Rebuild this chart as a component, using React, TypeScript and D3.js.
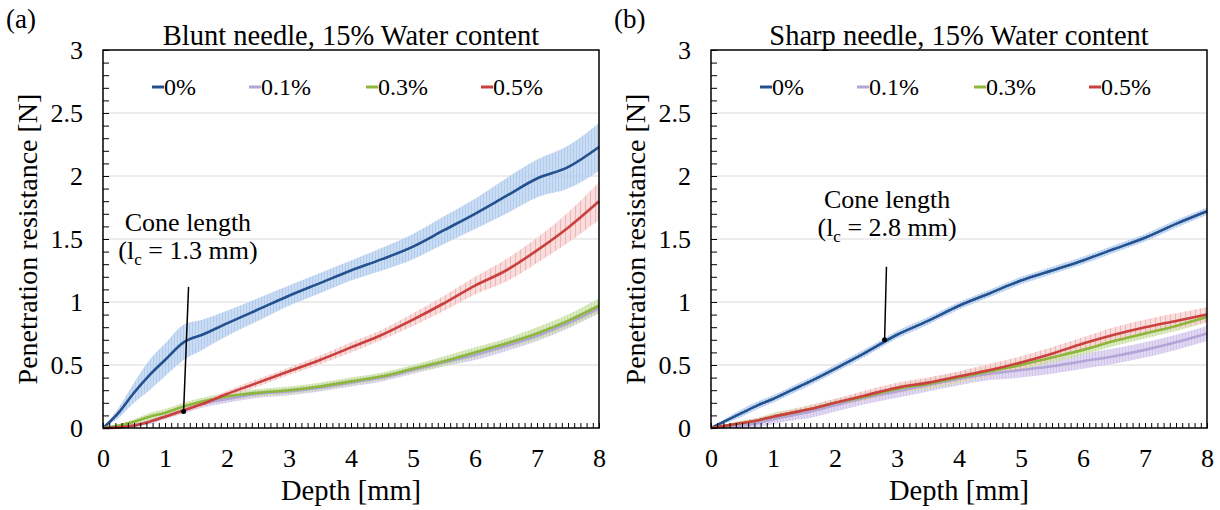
import { useEffect, useRef } from "react";
import * as d3 from "d3";

// depth grid shared by all series [mm]
const depth = [0, 0.25, 0.5, 0.75, 1, 1.3, 1.6, 2, 2.5, 3, 3.5, 4, 4.5, 5, 5.5, 6, 6.5, 7, 7.5, 8];

const labels = ["0%", "0.1%", "0.3%", "0.5%"];
const lineColors = ["#23508e", "#b4a5d8", "#8cb63c", "#c9403f"];
const bandColors = ["#bcd3f0", "#d9cff0", "#d3e6b3", "#f8d3d3"];
const barColors = ["#9fbfe8", "#c6b6e4", "#bcd894", "#eaa4a4"];

// (a) blunt needle
const bluntMean = [
  [0, 0.12, 0.28, 0.42, 0.54, 0.68, 0.74, 0.83, 0.94, 1.05, 1.15, 1.25, 1.34, 1.44, 1.57, 1.7, 1.84, 1.98, 2.07, 2.23],
  [0, 0.005, 0.02, 0.05, 0.09, 0.14, 0.19, 0.23, 0.27, 0.29, 0.32, 0.36, 0.4, 0.46, 0.52, 0.58, 0.65, 0.73, 0.83, 0.95],
  [0, 0.02, 0.05, 0.09, 0.12, 0.17, 0.21, 0.25, 0.28, 0.3, 0.33, 0.37, 0.41, 0.47, 0.53, 0.6, 0.67, 0.75, 0.85, 0.97],
  [0, 0.005, 0.02, 0.05, 0.09, 0.14, 0.19, 0.27, 0.36, 0.45, 0.54, 0.64, 0.74, 0.86, 0.99, 1.13, 1.25, 1.41, 1.59, 1.8],
];
const bluntErr = [
  [0, 0.04, 0.08, 0.12, 0.13, 0.14, 0.12, 0.1, 0.09, 0.08, 0.08, 0.08, 0.09, 0.1, 0.11, 0.12, 0.14, 0.15, 0.17, 0.19],
  [0, 0.005, 0.01, 0.02, 0.02, 0.025, 0.03, 0.03, 0.03, 0.03, 0.03, 0.03, 0.03, 0.03, 0.03, 0.04, 0.04, 0.04, 0.04, 0.04],
  [0, 0.01, 0.02, 0.03, 0.03, 0.03, 0.03, 0.03, 0.03, 0.03, 0.03, 0.03, 0.03, 0.03, 0.04, 0.04, 0.04, 0.05, 0.05, 0.06],
  [0, 0.005, 0.01, 0.01, 0.015, 0.02, 0.02, 0.025, 0.03, 0.03, 0.035, 0.04, 0.04, 0.05, 0.06, 0.07, 0.09, 0.1, 0.12, 0.15],
];

// (b) sharp needle
const sharpMean = [
  [0, 0.06, 0.12, 0.18, 0.23, 0.3, 0.37, 0.47, 0.6, 0.74, 0.85, 0.97, 1.07, 1.17, 1.25, 1.33, 1.42, 1.51, 1.62, 1.72],
  [0, 0.01, 0.02, 0.04, 0.07, 0.1, 0.13, 0.18, 0.24, 0.29, 0.34, 0.39, 0.43, 0.46, 0.49, 0.53, 0.57, 0.62, 0.68, 0.75],
  [0, 0.02, 0.04, 0.06, 0.09, 0.12, 0.15, 0.2, 0.25, 0.31, 0.35, 0.4, 0.45, 0.5, 0.56, 0.62, 0.69, 0.75, 0.81, 0.88],
  [0, 0.02, 0.04, 0.06, 0.09, 0.12, 0.15, 0.2, 0.26, 0.32, 0.36, 0.41, 0.46, 0.52, 0.59, 0.67, 0.74, 0.8, 0.85, 0.9],
];
const sharpErr = [
  [0, 0.02, 0.03, 0.03, 0.03, 0.03, 0.03, 0.03, 0.03, 0.03, 0.03, 0.03, 0.03, 0.03, 0.03, 0.03, 0.03, 0.03, 0.03, 0.03],
  [0, 0.01, 0.02, 0.03, 0.04, 0.04, 0.05, 0.05, 0.05, 0.05, 0.05, 0.05, 0.05, 0.06, 0.06, 0.06, 0.06, 0.06, 0.06, 0.06],
  [0, 0.01, 0.02, 0.02, 0.03, 0.03, 0.03, 0.03, 0.03, 0.03, 0.04, 0.04, 0.04, 0.04, 0.04, 0.04, 0.04, 0.04, 0.04, 0.04],
  [0, 0.01, 0.015, 0.02, 0.02, 0.025, 0.03, 0.03, 0.04, 0.04, 0.04, 0.04, 0.05, 0.05, 0.05, 0.05, 0.06, 0.06, 0.06, 0.06],
];

const panels = [
  { tag: "(a)", title: "Blunt needle, 15% Water content", mean: bluntMean, err: bluntErr, cone: 1.3, coneTop: 1.12, coneAt: 0.13, labelX: 1.37, labelY: 231 },
  { tag: "(b)", title: "Sharp needle, 15% Water content", mean: sharpMean, err: sharpErr, cone: 2.8, coneTop: 1.28, coneAt: 0.7, labelX: 2.84, labelY: 208 },
];

const FONT = "Liberation Serif";

export default function App() {
  const svgRef = useRef<SVGSVGElement>(null);

  useEffect(() => {
    const width = 1220;
    const height = 510;
    const svg = d3.select(svgRef.current)
      .attr("width", width)
      .attr("height", height)
      .attr("font-family", FONT);

    svg.selectAll("*").remove();
    const defs = svg.append("defs");

    panels.forEach((p, pi) => {
      const ox = pi * 608;
      const x = d3.scaleLinear().domain([0, 8]).range([103 + ox, 599 + ox]);
      const y = d3.scaleLinear().domain([0, 3]).range([428, 50]);
      const g = svg.append("g");

      // hatch patterns imitating the dense error bars
      lineColors.forEach((_, si) => {
        const pat = defs.append("pattern")
          .attr("id", `bars-${pi}-${si}`)
          .attr("patternUnits", "userSpaceOnUse")
          .attr("width", si === 3 ? 5 : 3).attr("height", 10);
        pat.append("rect").attr("width", 6).attr("height", 10).attr("fill", bandColors[si]);
        pat.append("line").attr("x1", 0.5).attr("x2", 0.5).attr("y1", 0).attr("y2", 10)
          .attr("stroke", barColors[si]).attr("stroke-width", 1);
      });

      // gridlines
      g.selectAll(".grid")
        .data(d3.range(0.5, 3, 0.5))
        .join("line")
        .attr("x1", x(0)).attr("x2", x(8))
        .attr("y1", d => y(d)).attr("y2", d => y(d))
        .attr("stroke", "#d9d9d9").attr("stroke-width", 1);

      // error bands
      p.mean.forEach((m, si) => {
        const area = d3.area<number>()
          .x((_, i) => x(depth[i]))
          .y0((d, i) => y(Math.max(0, d - p.err[si][i])))
          .y1((d, i) => y(d + p.err[si][i]))
          .curve(d3.curveMonotoneX);
        g.append("path")
          .datum(m)
          .attr("fill", `url(#bars-${pi}-${si})`)
          .attr("fill-opacity", 0.8)
          .attr("d", area);
      });

      // mean lines
      p.mean.forEach((m, si) => {
        const line = d3.line<number>()
          .x((_, i) => x(depth[i]))
          .y(d => y(d))
          .curve(d3.curveMonotoneX);
        g.append("path")
          .datum(m)
          .attr("fill", "none")
          .attr("stroke", lineColors[si])
          .attr("stroke-width", 2.6)
          .attr("d", line);
      });

      // x axis, inward minor ticks
      g.append("g")
        .attr("transform", `translate(0, ${y(0)})`)
        .call(d3.axisBottom(x).tickValues(d3.range(0, 8.001, 0.1)).tickSize(-5).tickFormat(() => ""))
        .call(a => a.select(".domain").remove())
        .call(a => a.selectAll("line").attr("stroke", "#000"));
      g.append("g")
        .attr("transform", `translate(0, ${y(0)})`)
        .call(d3.axisBottom(x).tickValues(d3.range(0, 9)).tickSize(0).tickPadding(21).tickFormat(d3.format("d")))
        .attr("font-family", FONT)
        .call(a => a.select(".domain").remove())
        .call(a => a.selectAll("text").attr("font-size", 26).attr("fill", "#000"));

      // y axis
      g.append("g")
        .attr("transform", `translate(${x(0)}, 0)`)
        .call(d3.axisLeft(y).tickValues(d3.range(0, 3.001, 0.1)).tickSize(-6).tickFormat(() => ""))
        .call(a => a.select(".domain").remove())
        .call(a => a.selectAll("line").attr("stroke", "#000"));
      g.append("g")
        .attr("transform", `translate(${x(0)}, 0)`)
        .call(d3.axisLeft(y).tickValues(d3.range(0, 3.001, 0.5)).tickSize(0).tickPadding(20).tickFormat(d3.format("~g")))
        .attr("font-family", FONT)
        .call(a => a.select(".domain").remove())
        .call(a => a.selectAll("text").attr("font-size", 26).attr("fill", "#000"));

      // frame
      g.append("rect")
        .attr("x", x(0)).attr("y", y(3))
        .attr("width", x(8) - x(0)).attr("height", y(0) - y(3))
        .attr("fill", "none").attr("stroke", "#000").attr("stroke-width", 1.5);

      // titles
      g.append("text").attr("x", 6 + ox).attr("y", 28).attr("font-size", 27).text(p.tag);
      g.append("text").attr("x", (x(0) + x(8)) / 2).attr("y", 45)
        .attr("text-anchor", "middle").attr("font-size", 28.5).text(p.title);
      g.append("text").attr("x", (x(0) + x(8)) / 2).attr("y", 500)
        .attr("text-anchor", "middle").attr("font-size", 28.5).text("Depth [mm]");
      g.append("text")
        .attr("transform", `translate(${37 + ox}, ${y(1.5)}) rotate(-90)`)
        .attr("text-anchor", "middle").attr("font-size", 28).text("Penetration resistance [N]");

      // legend
      const legendX = [152, 249, 366, 481];
      labels.forEach((lab, si) => {
        const lx = legendX[si] + ox;
        g.append("line")
          .attr("x1", lx).attr("x2", lx + 12).attr("y1", 87).attr("y2", 87)
          .attr("stroke", lineColors[si]).attr("stroke-width", 3);
        g.append("text").attr("x", lx + 12).attr("y", 95).attr("font-size", 24).text(lab);
      });

      // cone length annotation
      g.append("line")
        .attr("x1", x(p.cone + (pi === 0 ? 0.08 : 0.03))).attr("y1", y(p.coneTop))
        .attr("x2", x(p.cone)).attr("y2", y(p.coneAt))
        .attr("stroke", "#000").attr("stroke-width", 1.5);
      g.append("circle").attr("cx", x(p.cone)).attr("cy", y(p.coneAt)).attr("r", 2.5).attr("fill", "#000");
      g.append("text").attr("x", x(p.labelX)).attr("y", p.labelY)
        .attr("text-anchor", "middle").attr("font-size", 26).text("Cone length");
      const t2 = g.append("text").attr("x", x(p.labelX)).attr("y", p.labelY + 28)
        .attr("text-anchor", "middle").attr("font-size", 26);
      t2.append("tspan").text("(l");
      t2.append("tspan").attr("font-size", 17).attr("dy", 6).text("c");
      t2.append("tspan").attr("dy", -6).text(` = ${p.cone} mm)`);
    });
  }, []);

  return <svg ref={svgRef} style={{ display: "block", position: "absolute", left: 0, top: 0 }}></svg>;
}
